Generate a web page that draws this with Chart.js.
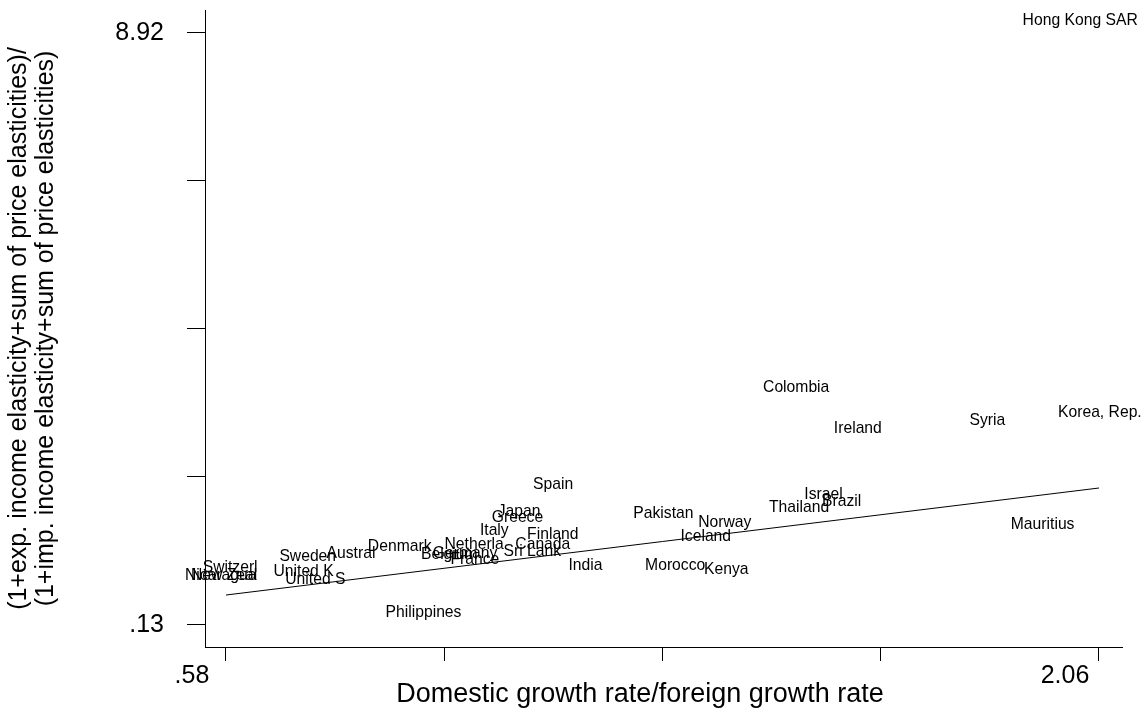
<!DOCTYPE html>
<html>
<head>
<meta charset="utf-8">
<title>Growth ratio vs elasticity ratio</title>
<script src="https://cdn.jsdelivr.net/npm/chart.js@4/dist/chart.umd.min.js"></script>
<style>
  html, body { margin: 0; padding: 0; background: #fff; }
  #wrap { width: 1145px; height: 712px; }
</style>
</head>
<body>
<div id="wrap"><canvas id="chart"></canvas></div>
<script>
// Country data (x = domestic/foreign growth, y = elasticity ratio)
const countries = [
  'Hong Kong SAR', 'Korea, Rep.', 'Syria', 'Ireland', 'Colombia', 'Mauritius',
  'Israel', 'Brazil', 'Thailand', 'Norway', 'Iceland', 'Pakistan', 'Morocco',
  'Kenya', 'India', 'Spain', 'Japan', 'Greece', 'Italy', 'Finland', 'Netherla',
  'Canada', 'Sri Lank', 'Belgium', 'Germany', 'France', 'Denmark', 'Austral',
  'Sweden', 'United K', 'United S', 'Switzerl', 'Nicaragua', 'New Zeal', 'Philippines'
];
const growthRatio = [
  2.00, 2.06, 1.91, 1.68, 1.56, 1.98,
  1.63, 1.66, 1.57, 1.45, 1.42, 1.34, 1.36,
  1.46, 1.23, 1.17, 1.11, 1.10, 1.08, 1.16, 1.02,
  1.14, 1.12, 0.98, 1.00, 1.03, 0.89, 0.82,
  0.74, 0.73, 0.75, 0.61, 0.58, 0.59, 0.92
];
const elasticityRatio = [
  8.92, 3.11, 2.98, 2.86, 3.47, 1.44,
  1.88, 1.78, 1.69, 1.47, 1.26, 1.61, 0.83,
  0.77, 0.83, 2.03, 1.64, 1.54, 1.35, 1.30, 1.15,
  1.15, 1.04, 0.99, 1.01, 0.92, 1.12, 1.01,
  0.96, 0.74, 0.62, 0.81, 0.68, 0.69, 0.13
];

// Fitted line end points
const fitX = [0.58, 2.06];
const fitY = [0.575, 2.164];

// Axis ticks
const xTicks = [0.58, 0.95, 1.32, 1.69, 2.06];
const xTickLabels = ['.58', '', '', '', '2.06'];
const yTicks = [0.13, 2.3275, 4.525, 6.7225, 8.92];
const yTickLabels = ['.13', '', '', '', '8.92'];

const xTitle = 'Domestic growth rate/foreign growth rate';

const FONT = '"Liberation Sans", Arial, Helvetica, sans-serif';

// Draw country names next to their (invisible) points, plus the x title
const countryLabels = {
  id: 'countryLabels',
  afterDatasetsDraw(chart) {
    const meta = chart.getDatasetMeta(1);
    const ctx = chart.ctx;
    ctx.save();
    ctx.font = '15.7px ' + FONT;
    ctx.fillStyle = '#000';
    ctx.textAlign = 'left';
    ctx.textBaseline = 'middle';
    meta.data.forEach((pt, i) => {
      ctx.fillText(countries[i], pt.x - 41, pt.y - 12);
    });

    // x axis title, sits a bit left of the plot centre like the original
    ctx.font = '27px ' + FONT;
    ctx.textAlign = 'center';
    ctx.fillText(xTitle, 640, 695);
    ctx.restore();
  }
};

const ctx = document.getElementById('chart').getContext('2d');
new Chart(ctx, {
  data: {
    datasets: [
      {
        type: 'line',
        data: fitX.map((x, i) => ({ x: x, y: fitY[i] })),
        borderColor: '#000',
        borderWidth: 1,
        pointRadius: 0,
        fill: false
      },
      {
        type: 'scatter',
        data: growthRatio.map((x, i) => ({ x: x, y: elasticityRatio[i] })),
        pointRadius: 0,
        showLine: false
      }
    ]
  },
  options: {
    responsive: true,
    maintainAspectRatio: false,
    animation: false,
    layout: { padding: { top: 10, right: 23, left: 0, bottom: 0 } },
    plugins: { legend: { display: false }, tooltip: { enabled: false } },
    scales: {
      x: {
        type: 'linear',
        min: 0.5444,
        max: 2.099,
        afterBuildTicks: s => { s.ticks = xTicks.map(v => ({ value: v })); },
        afterFit: s => {
          s.height = 65;
          s.paddingLeft = 0;
          s.paddingRight = 0;
        },
        grid: { drawOnChartArea: false, color: '#000', tickLength: 14 },
        border: { display: true, color: '#000', width: 1 },
        ticks: {
          autoSkip: false,
          maxRotation: 0,
          padding: 0,
          labelOffset: -34,
          color: '#000',
          font: { family: FONT, size: 25 },
          callback: (v, i) => xTickLabels[i]
        }
      },
      y: {
        type: 'linear',
        min: -0.1967,
        max: 9.2615,
        afterBuildTicks: s => { s.ticks = yTicks.map(v => ({ value: v })); },
        afterFit: s => {
          s.width = 205;
          s.paddingTop = 0;
          s.paddingBottom = 0;
        },
        grid: { drawOnChartArea: false, color: '#000', tickLength: 18 },
        border: { display: true, color: '#000', width: 1 },
        ticks: {
          autoSkip: false,
          padding: 23,
          color: '#000',
          font: { family: FONT, size: 25 },
          callback: (v, i) => yTickLabels[i]
        },
        title: {
          display: true,
          text: [
            '(1+exp. income elasticity+sum of price elasticities)/',
            '(1+imp. income elasticity+sum of price elasticities)'
          ],
          color: '#000',
          font: { family: FONT, size: 25, lineHeight: 1.1 },
          padding: { top: 5, bottom: 0 }
        }
      }
    }
  },
  plugins: [countryLabels]
});
</script>
</body>
</html>
